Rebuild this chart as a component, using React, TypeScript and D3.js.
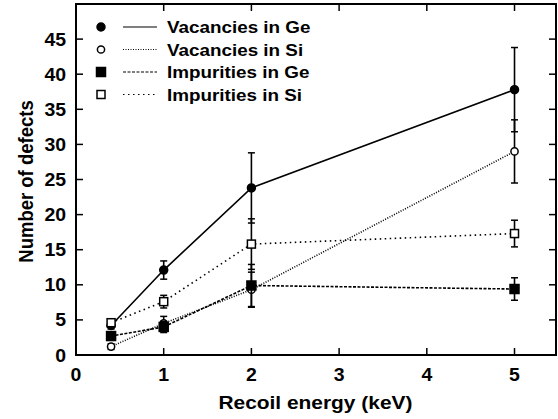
import { useEffect, useRef } from 'react';
import * as d3 from 'd3';

const energies = [0.4, 1, 2, 5];
const vacGe = [4.2, 12.1, 23.8, 37.8];
const vacGeErr = [0.5, 1.3, 5.0, 6.0];
const vacSi = [1.2, 4.5, 9.3, 29.0];
const vacSiErr = [0.4, 1.0, 2.5, 4.5];
const impGe = [2.7, 4.0, 9.9, 9.4];
const impGeErr = [0.4, 0.8, 3.0, 1.6];
const impSi = [4.6, 7.6, 15.8, 17.3];
const impSiErr = [0.5, 0.9, 3.6, 1.9];
const xTicks = [0, 1, 2, 3, 4, 5];
const yTicks = [0, 5, 10, 15, 20, 25, 30, 35, 40, 45, 50];

interface Series {
    name: string;
    values: number[];
    errors: number[];
    marker: 'circle' | 'square';
    filled: boolean;
    dash: string | null;
}

const series: Series[] = [
    { name: 'Vacancies in Ge', values: vacGe, errors: vacGeErr, marker: 'circle', filled: true, dash: null },
    { name: 'Vacancies in Si', values: vacSi, errors: vacSiErr, marker: 'circle', filled: false, dash: '1,1.5' },
    { name: 'Impurities in Ge', values: impGe, errors: impGeErr, marker: 'square', filled: true, dash: '3,1.5' },
    { name: 'Impurities in Si', values: impSi, errors: impSiErr, marker: 'square', filled: false, dash: '1.5,3.5' },
];

const App = () => {
    const svgRef = useRef<SVGSVGElement>(null);

    useEffect(() => {
        if (!svgRef.current) return;
        d3.select(svgRef.current).selectAll('*').remove();

        const width = 558;
        const height = 419;
        const margin = { top: 4, right: 2, bottom: 64, left: 76 };
        const innerWidth = width - margin.left - margin.right;
        const innerHeight = height - margin.top - margin.bottom;

        const svg = d3.select(svgRef.current)
            .attr('width', width)
            .attr('height', height)
            .style('font-family', '"Liberation Sans", Arial, sans-serif');

        svg.append('rect').attr('width', width).attr('height', height).attr('fill', '#fff');

        const g = svg.append('g').attr('transform', `translate(${margin.left},${margin.top})`);

        const x = d3.scaleLinear().domain([0, 5.473]).range([0, innerWidth]);
        const y = d3.scaleLinear().domain([0, 50]).range([innerHeight, 0]);

        // bold text, slightly widened like the original figure
        const label = (parent: d3.Selection<any, unknown, null, undefined>, tx: number, ty: number,
            text: string, size: number, anchor: string, sx: number) => {
            parent.append('text')
                .attr('transform', `translate(${tx},${ty}) scale(${sx},1)`)
                .attr('text-anchor', anchor).attr('font-size', size).attr('font-weight', 'bold')
                .text(text);
        };

        const tickLen = 7;
        const ticks = g.append('g').attr('stroke', '#000').attr('stroke-width', 1.5);
        xTicks.forEach(t => {
            ticks.append('line').attr('x1', x(t)).attr('x2', x(t)).attr('y1', innerHeight).attr('y2', innerHeight - tickLen);
            ticks.append('line').attr('x1', x(t)).attr('x2', x(t)).attr('y1', 0).attr('y2', tickLen);
        });
        yTicks.forEach(t => {
            ticks.append('line').attr('x1', 0).attr('x2', tickLen).attr('y1', y(t)).attr('y2', y(t));
            ticks.append('line').attr('x1', innerWidth).attr('x2', innerWidth - tickLen).attr('y1', y(t)).attr('y2', y(t));
        });

        xTicks.forEach(t => label(g, x(t), innerHeight + 26, String(t), 18, 'middle', 1.08));
        yTicks.slice(0, -1).forEach(t => label(g, -10, y(t) + 6.5, String(t), 18, 'end', 1.08));

        label(svg, margin.left + x(2.73), 409, 'Recoil energy (keV)', 19, 'middle', 1.1);
        svg.append('text')
            .attr('transform', `translate(33,${margin.top + innerHeight / 2 + 2}) rotate(-90) scale(1,1.1)`)
            .attr('text-anchor', 'middle').attr('font-size', 18.5).attr('font-weight', 'bold')
            .text('Number of defects');

        const line = d3.line<number>().x((_, i) => x(energies[i])).y(d => y(d));

        const drawMarker = (sel: d3.Selection<SVGGElement, unknown, null, undefined>, s: Series, cx: number, cy: number) => {
            if (s.marker === 'circle') {
                sel.append('circle').attr('cx', cx).attr('cy', cy).attr('r', s.filled ? 4 : 3.6)
                    .attr('fill', s.filled ? '#000' : '#fff').attr('stroke', '#000').attr('stroke-width', 1.5);
            } else {
                const sz = s.filled ? 9 : 8;
                sel.append('rect').attr('x', cx - sz / 2).attr('y', cy - sz / 2).attr('width', sz).attr('height', sz)
                    .attr('fill', s.filled ? '#000' : '#fff').attr('stroke', '#000').attr('stroke-width', 1.5);
            }
        };

        series.forEach(s => {
            const sg = g.append('g');
            sg.append('path').datum(s.values).attr('d', line)
                .attr('fill', 'none').attr('stroke', '#000').attr('stroke-width', 1.6)
                .attr('stroke-dasharray', s.dash);
            s.values.forEach((v, i) => {
                const cx = x(energies[i]);
                const top = y(v + s.errors[i]);
                const bot = y(v - s.errors[i]);
                sg.append('line').attr('x1', cx).attr('x2', cx).attr('y1', top).attr('y2', bot)
                    .attr('stroke', '#000').attr('stroke-width', 1.6);
                [top, bot].forEach(yy => {
                    sg.append('line').attr('x1', cx - 3.5).attr('x2', cx + 3.5).attr('y1', yy).attr('y2', yy)
                        .attr('stroke', '#000').attr('stroke-width', 1.5);
                });
            });
            s.values.forEach((v, i) => drawMarker(sg, s, x(energies[i]), y(v)));
        });

        // legend
        const lg = svg.append('g');
        series.forEach((s, i) => {
            const ly = 27 + i * 22.5;
            const row = lg.append('g');
            row.append('line').attr('x1', 123).attr('x2', 157).attr('y1', ly).attr('y2', ly)
                .attr('stroke', '#000').attr('stroke-width', 1.2).attr('stroke-dasharray', s.dash);
            drawMarker(row, s, 101, ly);
            label(row, 167, ly + 6.3, s.name, 17.3, 'start', 1.09);
        });

        // frame
        g.append('rect').attr('width', innerWidth).attr('height', innerHeight)
            .attr('fill', 'none').attr('stroke', '#000').attr('stroke-width', 2);
    }, []);

    return <svg ref={svgRef} style={{ position: 'absolute', left: 0, top: 0 }}></svg>;
};

export default App;
